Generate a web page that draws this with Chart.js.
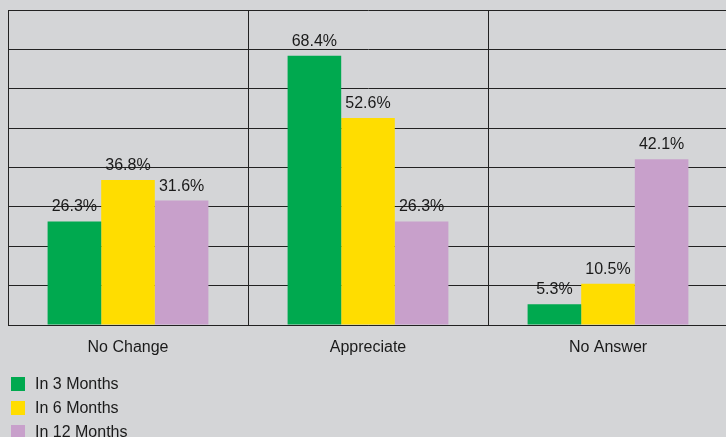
<!DOCTYPE html>
<html>
<head>
<meta charset="utf-8">
<script src="https://cdn.jsdelivr.net/npm/chart.js@4/dist/chart.umd.min.js"></script>
<style>
  html, body { margin: 0; padding: 0; background: #d4d5d7; overflow: hidden; }
  #wrap { width: 730px; height: 437px; }
</style>
</head>
<body>
<div id="wrap"><canvas id="outlookChart"></canvas></div>
<script>
const categories = ["No Change", "Appreciate", "No Answer"];
const seriesNames = ["In 3 Months", "In 6 Months", "In 12 Months"];
const in3Months = [26.3, 68.4, 5.3];
const in6Months = [36.8, 52.6, 10.5];
const in12Months = [31.6, 26.3, 42.1];
const seriesColors = ["#00a94f", "#ffdd00", "#c8a0cb"];

const textColor = "#1a1a1a";
const fontFamily = "'Liberation Sans', Arial, sans-serif";

// value labels above each bar
const barLabels = {
    id: "barLabels",
    afterDatasetsDraw(chart) {
        const ctx = chart.ctx;
        ctx.save();
        ctx.font = "16px " + fontFamily;
        ctx.fillStyle = textColor;
        ctx.textAlign = "center";
        ctx.textBaseline = "alphabetic";
        chart.data.datasets.forEach((ds, i) => {
            chart.getDatasetMeta(i).data.forEach((bar, j) => {
                ctx.fillText(ds.data[j].toFixed(1) + "%", bar.x, bar.y - 10);
            });
        });
        ctx.restore();
    }
};

// stacked legend under the category labels
const stackedLegend = {
    id: "stackedLegend",
    afterDraw(chart) {
        const ctx = chart.ctx;
        ctx.save();
        ctx.font = "16px " + fontFamily;
        ctx.textBaseline = "alphabetic";
        chart.data.datasets.forEach((ds, i) => {
            const y = 377 + i * 24;
            ctx.fillStyle = ds.backgroundColor;
            ctx.fillRect(11, y, 14, 14);
            ctx.fillStyle = textColor;
            ctx.fillText(ds.label, 35, y + 11.5);
        });
        ctx.restore();
    }
};

new Chart(document.getElementById("outlookChart"), {
    type: "bar",
    data: {
        labels: categories,
        datasets: [
            { label: seriesNames[0], data: in3Months, backgroundColor: seriesColors[0] },
            { label: seriesNames[1], data: in6Months, backgroundColor: seriesColors[1] },
            { label: seriesNames[2], data: in12Months, backgroundColor: seriesColors[2] }
        ]
    },
    options: {
        responsive: true,
        maintainAspectRatio: false,
        animation: false,
        layout: { padding: { left: 8, top: 10, right: 2, bottom: 0 } },
        datasets: { bar: { categoryPercentage: 0.67, barPercentage: 1.0 } },
        plugins: {
            legend: { display: false },
            tooltip: { enabled: false }
        },
        scales: {
            x: {
                grid: { color: "#222", lineWidth: 1, drawTicks: false, offset: true },
                border: { color: "#222", width: 1 },
                ticks: { color: textColor, font: { family: fontFamily, size: 16 }, padding: 13 },
                afterFit(scale) { scale.height = 112; }
            },
            y: {
                min: 0,
                max: 80,
                grid: { color: "#222", lineWidth: 1, drawTicks: false },
                border: { color: "#222", width: 1 },
                ticks: { display: false, stepSize: 10 },
                afterFit(scale) { scale.width = 0; }
            }
        }
    },
    plugins: [barLabels, stackedLegend]
});
</script>
</body>
</html>
